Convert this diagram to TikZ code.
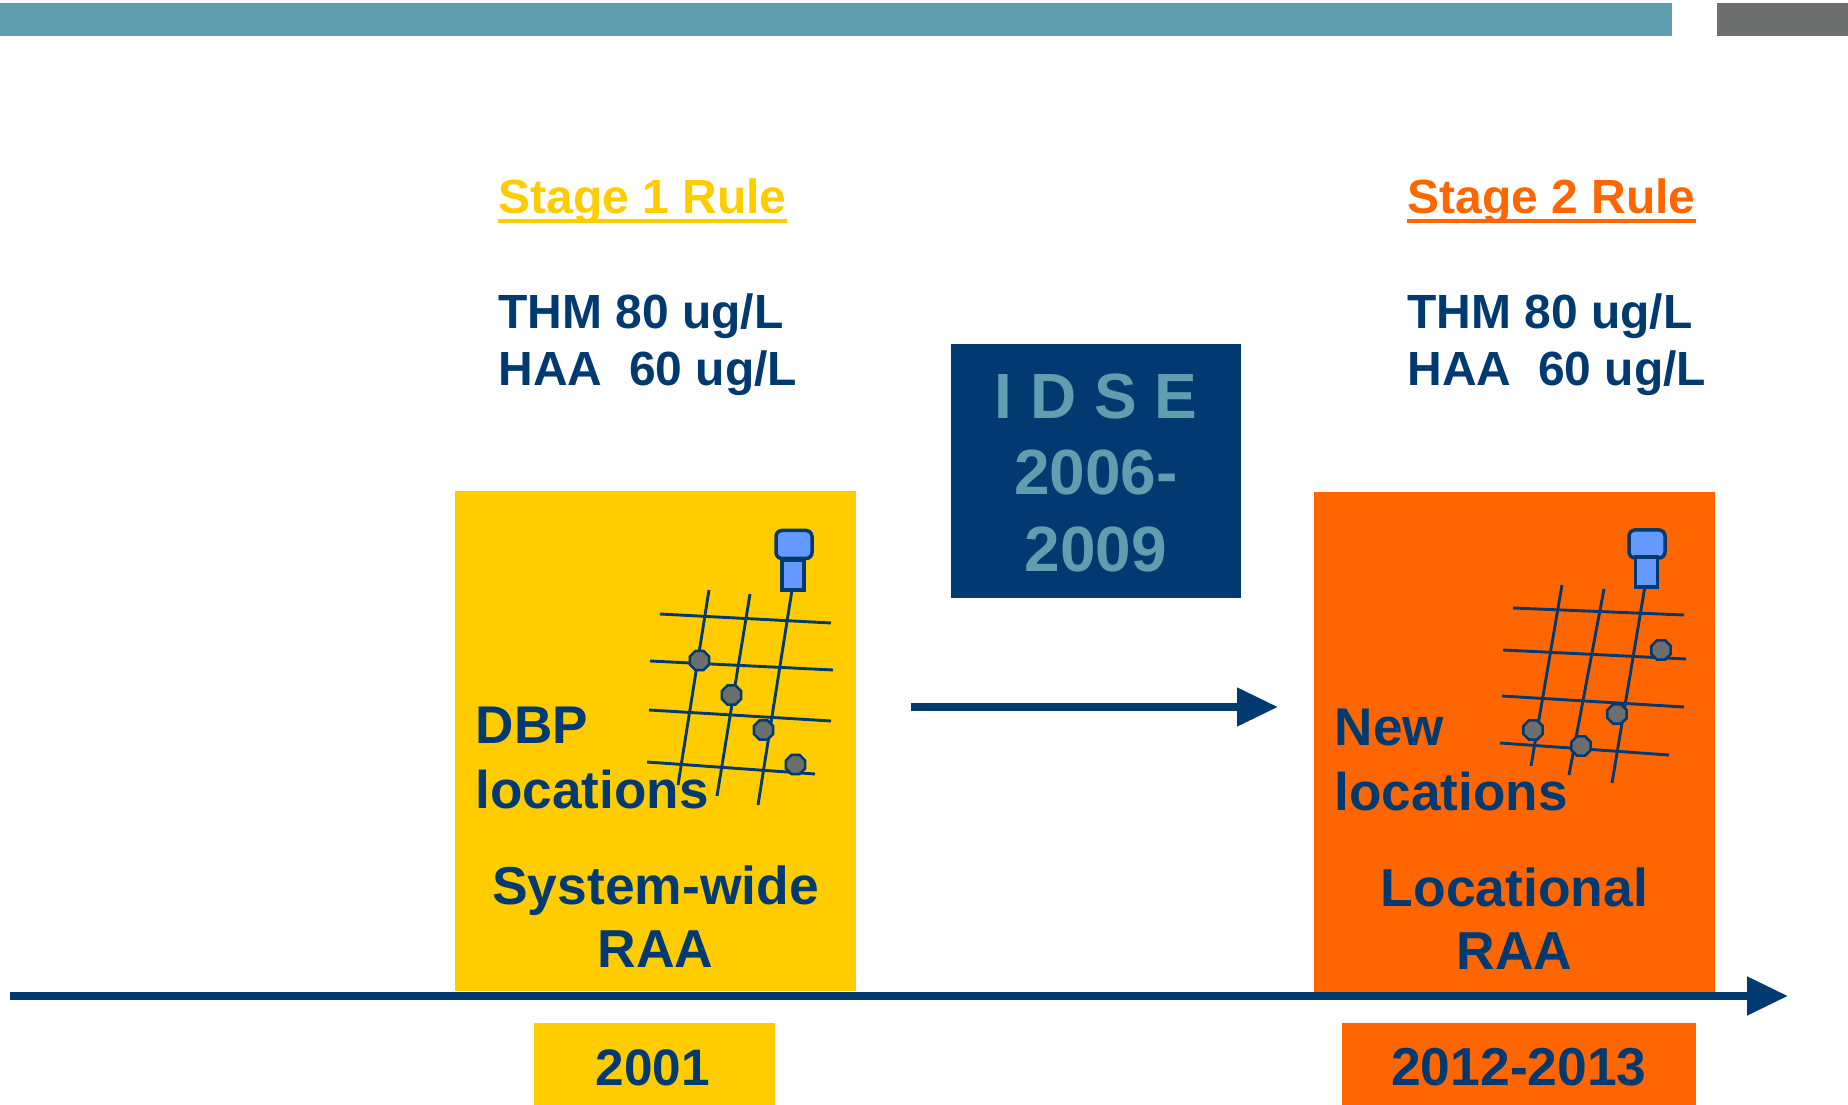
\documentclass[tikz,border=0pt]{standalone}
\usepackage{fontspec}
\setmainfont{Liberation Sans}
\usetikzlibrary{arrows.meta,shapes.geometric}
\definecolor{navy}{HTML}{003A70}
\definecolor{teal}{HTML}{5F9EAF}
\definecolor{barra}{HTML}{6D6E6E}
\definecolor{amarelo}{HTML}{FFCC00}
\definecolor{laranja}{HTML}{FF6600}
\definecolor{azul}{HTML}{6699FF}
\begin{document}
\begin{tikzpicture}[x=.1mm,y=-.1mm]
\tikzstyle{caixa}=[inner sep=0, outer sep=0]
\tikzstyle{rua}=[draw=navy, line width=.29mm]
\tikzstyle{ponto}=[regular polygon, regular polygon sides=8, minimum size=2.1mm, inner sep=0, draw=navy, line width=.25mm, fill=barra]
\tikzstyle{tampa}=[rectangle, rounded corners=.6mm, minimum width=3.6mm, minimum height=2.8mm, inner sep=0, draw=navy, line width=.35mm, fill=azul]
\tikzstyle{base}=[rectangle, minimum width=2.2mm, minimum height=3mm, inner sep=0, draw=navy, line width=.35mm, fill=azul]
\tikzstyle{seta}=[draw=navy, line width=.8mm, -{Triangle[length=4.1mm,width=3.7mm]}]
\tikzstyle{rule}=[font=\fontsize{13.65}{16.2}\selectfont\bfseries, anchor=base west, inner sep=0, align=left, text=navy]
\tikzstyle{rotulo}=[font=\fontsize{15.1}{18.4}\selectfont\bfseries, anchor=base west, inner sep=0, align=left, text=navy]
\tikzstyle{meio}=[font=\fontsize{15.2}{17.8}\selectfont\bfseries, anchor=base, inner sep=0, align=center, text=navy]
\useasboundingbox(0,0)rectangle(1848,1105);
\fill[teal](0,3)rectangle(1672,36);
\fill[barra](1717,3)rectangle(1848,36);
% stage 1
\node[caixa, fill=amarelo, minimum width=40.1mm, minimum height=50mm](boxa)at(655.5,741){};
\draw[rua](660,614)--(831,623);
\draw[rua](650,661)--(833,670);
\draw[rua](649,710)--(831,721);
\draw[rua](647,762)--(815,774);
\draw[rua](709,590)--(678,785);
\draw[rua](750,594)--(717,796);
\draw[rua](792,590)--(758,805);
\node[ponto](pa1)at(699.5,660.5){};
\node[ponto](pa2)at(731.5,695){};
\node[ponto](pa3)at(763.5,730){};
\node[ponto](pa4)at(795.5,764.5){};
\node[tampa](tampaa)at(794,544.5){};
\node[base](basea)at(793,575){};
% stage 2
\node[caixa, fill=laranja, minimum width=40.1mm, minimum height=50.2mm](boxb)at(1514.5,743){};
\draw[rua](1513,608)--(1684,615);
\draw[rua](1503,650)--(1686,659);
\draw[rua](1502,696)--(1684,707);
\draw[rua](1500,743)--(1669,755);
\draw[rua](1562,585)--(1531,766);
\draw[rua](1604,589)--(1569,775);
\draw[rua](1645,586)--(1612,783);
\node[ponto](pb1)at(1661,650){};
\node[ponto](pb2)at(1617,714){};
\node[ponto](pb3)at(1533,730){};
\node[ponto](pb4)at(1581,746){};
\node[tampa](tampab)at(1647,544){};
\node[base](baseb)at(1646.5,572){};
% titles
\node[rule, text=amarelo](stagea)at(498,214){Stage 1 Rule};
\node[rule, text=laranja](stageb)at(1407,214){Stage 2 Rule};
\draw[amarelo, line width=.45mm]([yshift=-.7mm]stagea.base west)--([yshift=-.7mm]stagea.base east);
\draw[laranja, line width=.45mm]([yshift=-.7mm]stageb.base west)--([yshift=-.7mm]stageb.base east);
\node[rule](thma)at(497.5,329){THM 80 ug/L};
\node[rule](haaa)at(498,386){HAA\ \ 60 ug/L};
\node[rule](thmb)at(1406.5,329){THM 80 ug/L};
\node[rule](haab)at(1407,386){HAA\ \ 60 ug/L};
% IDSE
\node[caixa, fill=navy, minimum width=29mm, minimum height=25.4mm](idse)at(1096,471){};
\node[font=\fontsize{18.2}{21.8}\selectfont\bfseries, anchor=base, inner sep=0, align=center, text=teal](idsea)at(1096,571.5){I D S E\\2006-\\2009};
\coordinate(inicio)at(911,707);
\coordinate(fim)at(1278,707);
\draw[seta](inicio)--(fim);
% box labels
\node[rotulo](dbp)at(475,808){DBP\\locations};
\node[rotulo](novo)at(1334,810){New\\locations};
\node[meio](raaa)at(655.5,967.5){System-wide\\RAA};
\node[meio](raab)at(1514.5,969.5){Locational\\RAA};
% timeline
\coordinate(t0)at(10,996);
\coordinate(t1)at(1788,996);
\draw[seta](t0)--(t1);
\node[caixa, fill=amarelo, minimum width=24.1mm, minimum height=8.2mm](anoa)at(654,1064){};
\node[caixa, fill=laranja, minimum width=35.4mm, minimum height=8.2mm](anob)at(1519,1064){};
\node[font=\fontsize{14.6}{17}\selectfont\bfseries, anchor=base, inner sep=0, text=navy](txta)at(653,1085){2001};
\node[font=\fontsize{15.2}{17}\selectfont\bfseries, anchor=base, inner sep=0, text=navy](txtb)at(1519,1085){2012-2013};
\end{tikzpicture}
\end{document}
